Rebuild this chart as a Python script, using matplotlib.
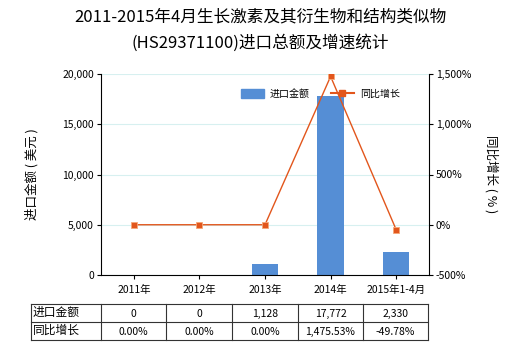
import matplotlib
matplotlib.use("Agg")
import matplotlib.pyplot as plt
from matplotlib.lines import Line2D
from matplotlib.patches import Patch

plt.rcParams['font.family'] = ['Noto Sans CJK SC', 'DejaVu Sans']

categories = ["2011年", "2012年", "2013年", "2014年", "2015年1-4月"]
import_values = [0, 0, 1128, 17772, 2330]
growth_values = [0.00, 0.00, 0.00, 1475.53, -49.78]

title = "2011-2015年4月生长激素及其衍生物和结构类似物\n(HS29371100)进口总额及增速统计"
bar_color = "#558ED5"
line_color = "#E2561C"
marker_edge = "#F5A878"
grid_color = "#D7F0F0"

fig = plt.figure(figsize=(5.2, 3.5), dpi=100)
W, H = 520, 350

def fx(px):
    return px / W

def fy(py):
    return 1 - py / H

ax = fig.add_axes([fx(101), fy(275), fx(429) - fx(101), fy(74) - fy(275)])
x = list(range(len(categories)))
ax.bar(x, import_values, width=0.4, color=bar_color, zorder=2)
ax.set_xlim(-0.5, len(categories) - 0.5)
ax.set_ylim(0, 20000)
ax.set_yticks([0, 5000, 10000, 15000, 20000])
ax.set_yticklabels([f"{v:,}" for v in [0, 5000, 10000, 15000, 20000]])
ax.set_xticks(x)
ax.set_xticklabels(categories)
ax.grid(axis='y', color=grid_color, linewidth=0.8, zorder=0)
for s in ['top', 'right']:
    ax.spines[s].set_visible(False)
ax.spines['left'].set_linewidth(0.8)
ax.spines['bottom'].set_linewidth(0.8)
ax.tick_params(axis='both', labelsize=7.5, length=3, width=0.8, pad=2)
ax.tick_params(axis='x', pad=4)
ax.set_ylabel("进口金额 ( 美元 )", fontsize=9, labelpad=17)

ax2 = ax.twinx()
ax2.plot(x, growth_values, color=line_color, linewidth=1.0, marker='s',
         markersize=4.5, markeredgecolor=marker_edge, markeredgewidth=0.6,
         markerfacecolor=line_color, zorder=3)
ax2.set_ylim(-500, 1500)
ax2.set_yticks([-500, 0, 500, 1000, 1500])
ax2.set_yticklabels([f"{v:,}%" for v in [-500, 0, 500, 1000, 1500]])
for s in ['top', 'left', 'bottom']:
    ax2.spines[s].set_visible(False)
ax2.spines['right'].set_linewidth(0.8)
ax2.tick_params(axis='y', labelsize=7.5, length=3, width=0.8, pad=2)
ax2.set_ylabel("同比增长 ( % )", fontsize=9, rotation=-90, labelpad=19)

handles = [Patch(color=bar_color, label="进口金额"),
           Line2D([0], [0], color=line_color, marker='s', markersize=4, linewidth=1.5,
                  label="同比增长")]
ax.legend(handles=handles, loc='upper right', bbox_to_anchor=(0.923, 0.945), ncol=2,
          frameon=False, fontsize=7.2, handlelength=2.3, handleheight=1.0,
          columnspacing=2.1, handletextpad=0.6, borderaxespad=0)

fig.text(0.5, fy(8), title, ha='center', va='top', fontsize=12, linespacing=1.65)

# data table under the axis
col_edges = [31, 101, 166, 232, 298, 363, 428]
row_edges = [304, 322, 340]
row_names = ["进口金额", "同比增长"]
row_texts = [[f"{v:,}" for v in import_values],
             [f"{v:,.2f}%" for v in growth_values]]
for yv in row_edges:
    fig.add_artist(Line2D([fx(col_edges[0]), fx(col_edges[-1])], [fy(yv), fy(yv)],
                          color='#333333', linewidth=0.8))
for xv in col_edges:
    fig.add_artist(Line2D([fx(xv), fx(xv)], [fy(row_edges[0]), fy(row_edges[-1])],
                          color='#333333', linewidth=0.8))
for r, name in enumerate(row_names):
    yc = (row_edges[r] + row_edges[r + 1]) / 2
    fig.text(fx(col_edges[0] + 2), fy(yc - 1), name, ha='left', va='center', fontsize=8.5)
    for c, t in enumerate(row_texts[r]):
        xc = (col_edges[c + 1] + col_edges[c + 2]) / 2
        fig.text(fx(xc), fy(yc + 1), t, ha='center', va='center', fontsize=7.5)

fig.savefig("out.png", dpi=100)
